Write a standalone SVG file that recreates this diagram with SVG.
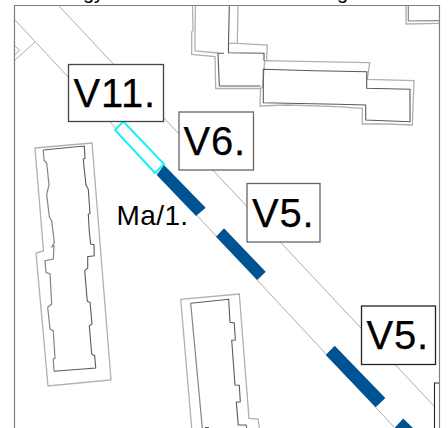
<svg xmlns="http://www.w3.org/2000/svg" width="448" height="428" viewBox="0 0 448 428">
<style>
.lg{fill:none;stroke:#b0b0b0;stroke-width:1.3}
.md{fill:none;stroke:#858585;stroke-width:1.2}
.dk{fill:none;stroke:#5a5a5a;stroke-width:1.1}
.rd{fill:none;stroke:#adadad;stroke-width:1}
.bl{fill:#005392}
.lb{fill:#fff;stroke-width:1.3}
.t{font-family:"Liberation Sans",Arial,sans-serif;fill:#000}
.v{font-size:40px;letter-spacing:.8px;stroke:#000;stroke-width:.25}
</style>
<rect width="448" height="428" fill="#fff"/>
<text class="t" x="83" y="-1" font-size="20">gy</text>
<text class="t" x="337" y="-1" font-size="20">g</text>

<g id="buildings">
<path class="lg" d="M35 148L92 143L111 380L48 386L36 253L43.5 251Z"/>
<path class="md" d="M43.3 150L44 160L46.7 163.3L49 185L46.7 194.3L49.3 216.7L51.7 221L54.3 242.3L52 246.7L54 245.7L53.3 259L45 260.7L46 272.3L50 274L51.7 304L47.7 307.3L50 329L53.3 330.7L55 358.3L53.3 359L54 371.3"/>
<path class="dk" d="M43.3 150L84.3 146L85 158.3L83.3 159L84 166.7L86 185L88.3 189.3L90 213.3L88.3 214.3L89.3 231.7L90.7 244L94 244.7L94.3 255.7L87.7 256.7L87.7 268L84.7 270.7L87.3 301.3L90 302.3L92 324L89.3 325.7L91.7 354L94.7 355.7L95.7 368L54 371.3"/>

<path class="lg" d="M191.7 428L180.7 299.3L239.3 294L249 418.3L258 419L259.3 428"/>
<path class="md" d="M202.3 428L190.7 303.3"/>
<path class="dk" d="M190.7 303.3L228.7 299.3L230 322.3L234.3 323L235.3 340L231.7 340.3L235 385L239.3 385.3L240.3 401.7L236.3 402.3L238.3 425L246 425L246.7 428M205 427.5L209 427.5"/>

<path class="lg" d="M192.5 6L193 30L191.7 32L191.7 54.5L215 56.5L215.7 88.5L261 88.5L262.5 87L264.7 60.7L314 61.7L369.7 62.7L367.3 79.3L414 80.7L412.3 125L387.3 124L362.3 124L362.3 108.3L337.3 106.7L287.3 105L260 106L260.5 88"/>
<path class="lg" d="M195.5 6L195 30L195 51L218.3 53"/>
<path class="lg" d="M238 6L237.3 43.3L267.3 45L266.5 60.5"/>
<path class="lg" d="M228.7 43.3L238 43.3"/>
<path class="dk" d="M229.3 6L228.5 43.3L228.5 52.7L264 53.3L264 60.7"/>
<path class="dk" d="M224 53.3L218 53.3L219.3 86L260.5 86"/>
<path class="dk" d="M263.3 69.3L314 70.7L366.7 71.7L366.7 88.3L410 89.3L410 121.7L365.7 120L365.7 105L337.3 104.3L287.3 103.3L263.3 102.7Z"/>

<path class="lg" d="M406 6L406 24L439 23.3"/>
<path class="md" d="M408.3 6L408.3 21L439 20.7"/>

<path d="M434.5 428V383H439" fill="none" stroke="#222" stroke-width="1.1"/>
<path class="rd" d="M35 42L15 60M15 46L19.5 50L15 55"/>
</g>

<g id="connectors">
<path class="rd" d="M59 6L434 406"/>
<path class="rd" d="M15 20L394 427"/>
</g>

<g id="road-bands">
<path class="bl" d="M164 165L156.7 175L196 216L205.7 207.7Z"/>
<path class="bl" d="M224 228.3L216 236.7L257.3 280L265.7 271.7Z"/>
<path class="bl" d="M334.7 345.7L325.7 355L375.7 407.3L385.3 398Z"/>
<path class="bl" d="M403.2 418.5L394.5 428L413 428Z"/>
<path d="M123.3 121.5L115 130L155 173L164 164Z" fill="#fff" stroke="#19f0f5" stroke-width="2"/>
</g>

<path d="M14.5 428V5.5H439.5V428" fill="none" stroke="#808080" stroke-width="1.2"/>

<g id="V11"><rect class="lb" stroke="#444" x="68.5" y="64.5" width="95" height="57"/><text class="t v" x="73.5" y="107">V11.</text></g>
<g id="V6"><rect class="lb" stroke="#666" x="179" y="112" width="74.5" height="58"/><text class="t v" x="183.5" y="155">V6.</text></g>
<g id="V5a"><rect class="lb" stroke="#666" x="247" y="183.5" width="73" height="58.5"/><text class="t v" x="252" y="227">V5.</text></g>
<g id="V5b"><rect class="lb" stroke="#222" x="361.5" y="306" width="74" height="58.5"/><text class="t v" x="366.5" y="349">V5.</text></g>
<g id="Ma1"><text class="t" x="116.5" y="225" font-size="28" letter-spacing=".4">Ma/1.</text></g>
</svg>
